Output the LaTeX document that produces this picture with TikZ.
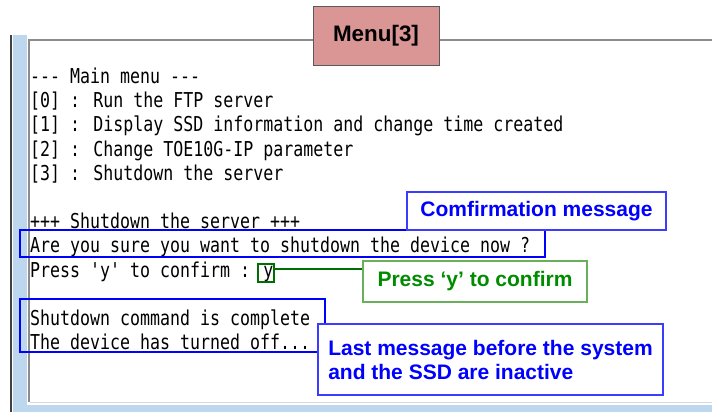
\documentclass[tikz,border=0pt]{standalone}
\usepackage{fontspec}
\setsansfont{Liberation Sans}
\newfontfamily\termfont[FakeStretch=0.81]{DejaVu Sans Mono}
\usetikzlibrary{calc,positioning}
\definecolor{winblue}{HTML}{BDD7EE}
\definecolor{framegrey}{HTML}{8C8C8C}
\definecolor{edgegrey}{HTML}{404040}
\definecolor{tabfill}{HTML}{D99694}
\definecolor{tabline}{HTML}{595959}
\definecolor{markblue}{HTML}{0000FF}
\definecolor{noteblue}{HTML}{3C3CFF}
\definecolor{markgreen}{HTML}{006E00}
\definecolor{notegreen}{HTML}{6AAF5A}
\definecolor{textgreen}{HTML}{008C00}

\begin{document}
\begin{tikzpicture}[x=1bp, y=-1bp,
      termtext/.style={anchor=base west, inner sep=0pt,
                       font=\termfont\fontsize{20.5bp}{24bp}\selectfont},
      markbox/.style={draw=markblue, line width=2.2bp, inner sep=0pt},
      keybox/.style={draw=markgreen, line width=2bp, inner sep=0pt,
                     minimum width=16bp, minimum height=18bp},
      notebox/.style={draw=noteblue, line width=1.3bp, fill=white,
                      text=markblue, inner sep=0pt,
                      font=\sffamily\bfseries\fontsize{21bp}{24bp}\selectfont},
      greennote/.style={draw=notegreen, line width=1.3bp, fill=white,
                        text=textgreen, inner sep=0pt,
                        font=\sffamily\bfseries\fontsize{21bp}{24bp}\selectfont},
      keyline/.style={draw=markgreen, line width=2bp}]

    \useasboundingbox (0,0) rectangle (712,412);

    % window frame
    \fill[winblue] (12.5,35) rectangle (27,412);
    \fill[winblue] (27,404.5) rectangle (712,412);
    \draw[edgegrey, line width=1.5bp] (11,35) -- (11,412);
    \draw[framegrey, line width=2bp] (29,402) -- (29,40) -- (712,40);
    \draw[black!15, line width=1.5bp] (30,402.5) -- (712,402.5);

    \node[draw=tabline, line width=0.8bp, fill=tabfill,
          minimum width=126bp, minimum height=59bp, inner sep=0pt,
          font=\sffamily\bfseries\fontsize{22.4bp}{26bp}\selectfont]
      (menu) at (376,35.5) {Menu[3]};

    % console text
    \foreach \i/\y/\txt in {
        1/83.5/{--- Main menu ---},
        2/107.7/{[0] : Run the FTP server},
        3/131.9/{[1] : Display SSD information and change time created},
        4/156.1/{[2] : Change TOE10G-IP parameter},
        5/180.3/{[3] : Shutdown the server},
        6/228.7/{+++ Shutdown the server +++},
        7/252.9/{Are you sure you want to shutdown the device now ?},
        8/277.1/{Press 'y' to confirm : y},
        9/325.5/{Shutdown command is complete},
        10/349.7/{The device has turned off...}}
    {
      \node[termtext] (l\i) at (30,\y) {\txt};
    }

    % marks
    \node[markbox, minimum width=525bp, minimum height=27bp]
      (askbox) at (282.5,243.5) {};
    \node[markbox, minimum width=305bp, minimum height=53bp]
      (donebox) at (172.5,325.5) {};
    \node[keybox] (ybox) at (266,273) {};

    % notes
    \node[notebox, minimum width=259bp, minimum height=38bp]
      (asknote) at (536.5,211) {Comfirmation message};
    \node[greennote, minimum width=224bp, minimum height=41bp]
      (keynote) at (475,281.5) {Press ‘y’ to confirm};
    \draw[keyline] ([yshift=4bp]ybox.east) -- ([yshift=4bp]ybox.east -| keynote.west);
    \node[notebox, align=left, minimum width=345bp, minimum height=71bp]
      (donenote) at (490.5,359.5) {Last message before the system\\and the SSD are inactive};
  \end{tikzpicture}
\end{document}
